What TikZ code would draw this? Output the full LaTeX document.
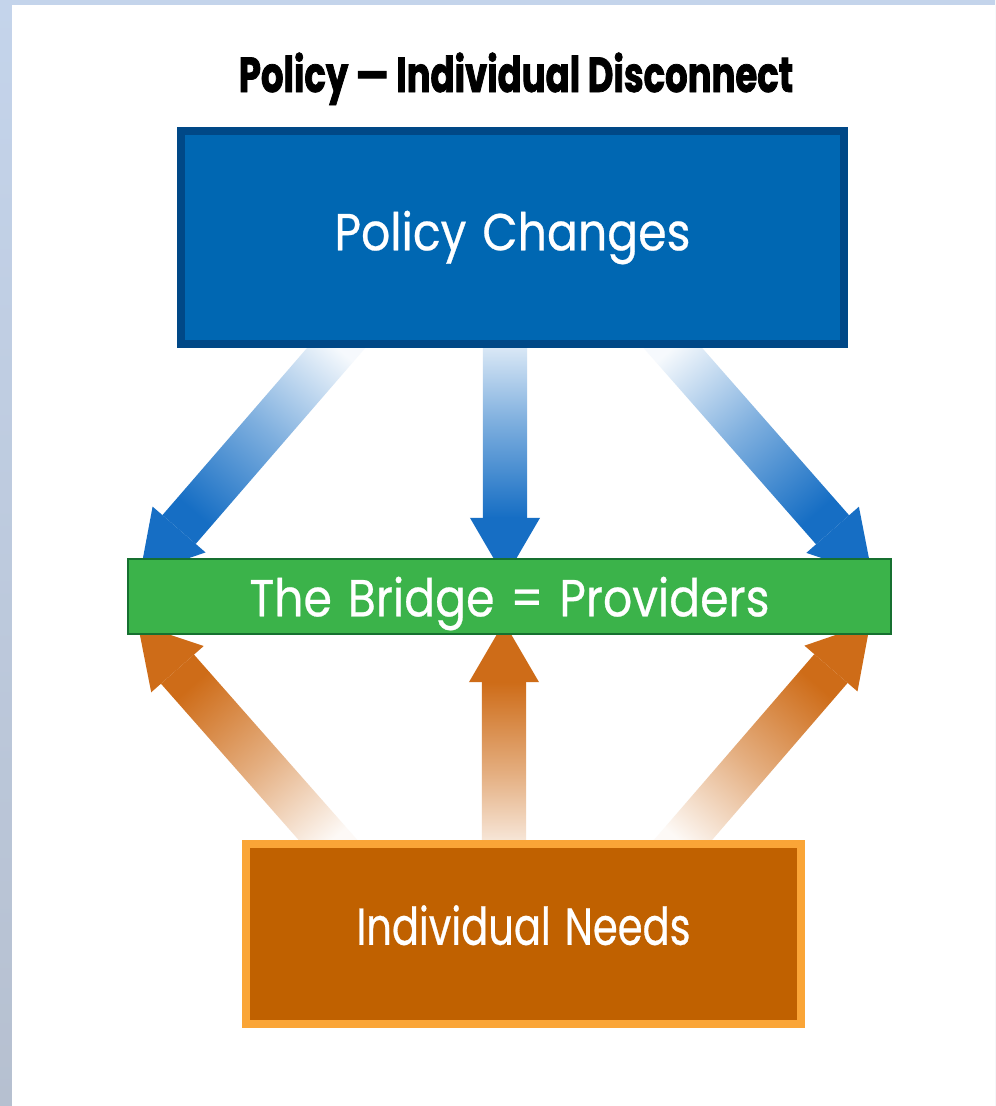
\documentclass[tikz,border=0pt]{standalone}
\usepackage{fontspec}
\usepackage{xcolor}
\usetikzlibrary{calc}

\newfontfamily\boxfont[FakeStretch=0.88, WordSpace=1.3, FakeBold=0.5]{Poppins}
\newfontfamily\needsfont[FakeStretch=0.77, WordSpace=1.3, FakeBold=0.5]{Poppins}
\newfontfamily\titlefont[FakeStretch=0.72, FakeBold=1.5]{Poppins}

\definecolor{policyblue}{RGB}{0,103,178}
\definecolor{policyedge}{RGB}{0,72,135}
\definecolor{bridgegreen}{RGB}{59,179,74}
\definecolor{bridgeedge}{RGB}{22,112,48}
\definecolor{needsorange}{RGB}{192,97,0}
\definecolor{needsedge}{RGB}{250,165,55}
\definecolor{arrowblue}{RGB}{22,110,196}
\definecolor{arroworange}{RGB}{206,108,24}
\definecolor{framebg}{RGB}{196,212,235}
\definecolor{framebgdark}{RGB}{182,192,208}

\pgfdeclarelayer{back}
\pgfdeclarelayer{arrows}
\pgfsetlayers{back,arrows,main}

% fat arrow from #1 to #2, fading from #3 to #4
\newcommand{\fatarrow}[4]{%
  \pgfmathanglebetweenpoints{\pgfpointanchor{#1}{center}}{\pgfpointanchor{#2}{center}}%
  \pgfmathsetmacro{\shadeangle}{\pgfmathresult+90}%
  \coordinate (fa-s) at ($(#1)!-0.6cm!(#2)$);
  \coordinate (fa-b) at ($(#2)!1.5cm!(#1)$);
  \shade[top color=#3, bottom color=#4, middle color=#4!55!white, shading angle=\shadeangle]
    ($(fa-s)!0.55cm!90:(#2)$) -- ($(fa-b)!0.55cm!90:(#2)$)
    -- ($(fa-b)!0.55cm!-90:(#2)$) -- ($(fa-s)!0.55cm!-90:(#2)$) -- cycle;
  \fill[#4] ($(fa-b)!0.875cm!90:(#2)$) -- (#2) -- ($(fa-b)!0.875cm!-90:(#2)$) -- cycle;
}

\begin{document}
\begin{tikzpicture}[x=0.025cm, y=0.025cm,
  title/.style={font=\titlefont\bfseries\fontsize{35}{38}\selectfont},
  policybox/.style={draw=policyedge, line width=0.2cm, fill=policyblue, text=white,
    minimum width=16.58cm, minimum height=5.33cm, font=\boxfont\fontsize{37}{40}\selectfont},
  bridgebox/.style={draw=bridgeedge, line width=0.05cm, fill=bridgegreen, text=white,
    minimum width=19.08cm, minimum height=1.88cm, text depth=0pt,
    font=\boxfont\fontsize{37}{40}\selectfont},
  needsbox/.style={draw=needsedge, line width=0.2cm, fill=needsorange, text=white,
    minimum width=13.88cm, minimum height=4.5cm, text depth=0.45cm,
    font=\needsfont\fontsize{37}{40}\selectfont}
]
  \useasboundingbox (0,0) rectangle (995,-1106);

  % Frame and white panel
  \begin{pgfonlayer}{back}
    \shade[top color=framebg, bottom color=framebgdark] (0,0) rectangle (995,-1106);
    \fill[white] (12,-5) rectangle (995,-1106);
  \end{pgfonlayer}

  % Title
  \node[title, anchor=base] (title) at (516,-92) {Policy — Individual Disconnect};

  % Boxes
  \node[policybox] (policy) at (512.5,-237.5) {Policy Changes};
  \node[bridgebox] (bridge) at (509.5,-596.5) {The Bridge = Providers};
  \node[needsbox] (needs) at (523.5,-934) {Individual Needs};

  % Arrow ends
  \coordinate (pl-s) at ($(policy.south)+(-176.5,0)$);
  \coordinate (pm-s) at ($(policy.south)+(-7.5,0)$);
  \coordinate (pr-s) at ($(policy.south)+(160.5,0)$);
  \coordinate (bl-t) at ($(bridge.north west)+(13,-17)$);
  \coordinate (bm-t) at ($(bridge.north)+(-4.5,-20)$);
  \coordinate (br-t) at ($(bridge.north east)+(-20,-17)$);
  \coordinate (nl-s) at ($(needs.north)+(-195.5,0)$);
  \coordinate (nm-s) at ($(needs.north)+(-19.5,0)$);
  \coordinate (nr-s) at ($(needs.north)+(159.5,0)$);
  \coordinate (bl-b) at ($(bridge.south west)+(11,11)$);
  \coordinate (bm-b) at ($(bridge.south)+(-5.5,13)$);
  \coordinate (br-b) at ($(bridge.south east)+(-22,12)$);

  % Arrows
  \begin{pgfonlayer}{arrows}
    \fatarrow{pl-s}{bl-t}{arrowblue!4!white}{arrowblue}
    \fatarrow{pm-s}{bm-t}{arrowblue!4!white}{arrowblue}
    \fatarrow{pr-s}{br-t}{arrowblue!4!white}{arrowblue}
    \fatarrow{nl-s}{bl-b}{arroworange!4!white}{arroworange}
    \fatarrow{nm-s}{bm-b}{arroworange!4!white}{arroworange}
    \fatarrow{nr-s}{br-b}{arroworange!4!white}{arroworange}
  \end{pgfonlayer}
\end{tikzpicture}
\end{document}
